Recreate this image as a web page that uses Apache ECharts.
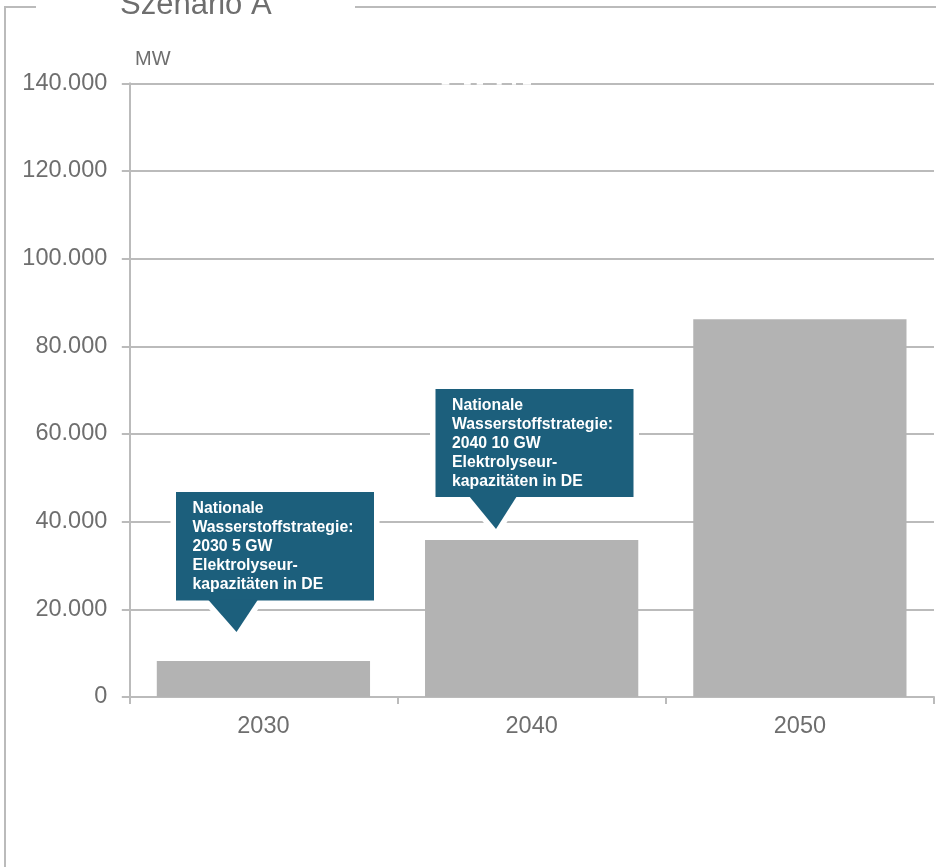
<!DOCTYPE html>
<html>
<head>
<meta charset="utf-8">
<script src="https://cdn.jsdelivr.net/npm/echarts@6/dist/echarts.min.js"></script>
<style>
html,body{margin:0;padding:0;background:#fff;}
#chart{width:936px;height:867px;}
</style>
</head>
<body>
<div id="chart"></div>
<script>
var categories = ['2030', '2040', '2050'];
var capacityMW = [8200, 35800, 86200];
var yTicks = [0, 20000, 40000, 60000, 80000, 100000, 120000, 140000];
var titleText = 'Szenario A';
var unitText = 'MW';
var callout2030 = ['Nationale', 'Wasserstoffstrategie:', '2030 5 GW', 'Elektrolyseur-', 'kapazitäten in DE'];
var callout2040 = ['Nationale', 'Wasserstoffstrategie:', '2040 10 GW', 'Elektrolyseur-', 'kapazitäten in DE'];

var FONT = '"Liberation Sans", Arial, sans-serif';
var GREY_TXT = '#6e6e6e';
var LINE = '#bbbbbb';
var TEAL = '#1c5f7c';

function fmt(v) { return String(v).replace(/\B(?=(\d{3})+(?!\d))/g, '.'); }

function callout(x, y, w, h, tri, lines) {
  var pts = [[tri[0], y + h - 1], [tri[1], y + h - 1], [tri[2], tri[3]]];
  return [
    { type: 'rect', shape: { x: x, y: y, width: w, height: h }, style: { fill: '#fff', stroke: '#fff', lineWidth: 11 }, z: 50 },
    { type: 'polygon', shape: { points: pts }, style: { fill: '#fff', stroke: '#fff', lineWidth: 11, lineJoin: 'round' }, z: 50 },
    { type: 'rect', shape: { x: x, y: y, width: w, height: h }, style: { fill: TEAL }, z: 51 },
    { type: 'polygon', shape: { points: pts }, style: { fill: TEAL }, z: 51 },
    { type: 'text', x: x + 16.5, y: y + 7, z: 52,
      style: { text: lines.join('\n'), fill: '#ffffff', font: 'bold 15.8px ' + FONT, lineHeight: 19, textVerticalAlign: 'top', textAlign: 'left' } }
  ];
}

var chart = echarts.init(document.getElementById('chart'), null, { renderer: 'canvas' });

var graphics = [
  { type: 'polyline', shape: { points: [[36, 7], [5, 7], [5, 867]] }, style: { stroke: LINE, lineWidth: 2, fill: null }, z: 5 },
  { type: 'line', shape: { x1: 355, y1: 7, x2: 936, y2: 7 }, style: { stroke: LINE, lineWidth: 2 }, z: 5 },
  { type: 'text', x: 120, y: 5, z: 5, style: { text: titleText, fill: GREY_TXT, font: '31px ' + FONT, textVerticalAlign: 'middle', textAlign: 'left' } },
  { type: 'text', x: 135, y: 59, z: 5, style: { text: unitText, fill: GREY_TXT, font: '20px ' + FONT, textVerticalAlign: 'middle', textAlign: 'left' } },
  { type: 'line', shape: { x1: 441.7, y1: 83.3, x2: 531, y2: 83.3 }, z: 40,
    style: { stroke: '#fff', lineWidth: 3, lineDash: [7.6, 14.7, 6.7, 6, 6.3, 13.7, 5, 10.3, 4, 7, 8] } }
].concat(
  callout(176, 492, 198, 108.5, [208, 258, 236.5, 632], callout2030),
  callout(435.5, 389, 198, 108, [469, 517, 496, 529], callout2040)
);

chart.setOption({
  animation: false,
  backgroundColor: '#ffffff',
  grid: { left: 129.3, right: 2, top: 83.3, bottom: 170, containLabel: false },
  xAxis: {
    type: 'category',
    data: categories,
    boundaryGap: true,
    axisLine: { show: true, lineStyle: { color: LINE, width: 2 } },
    axisTick: { show: true, length: 7, alignWithLabel: false, lineStyle: { color: LINE, width: 2 } },
    axisLabel: { color: GREY_TXT, fontSize: 23.5, fontFamily: FONT, margin: 18 },
    splitLine: { show: false }
  },
  yAxis: {
    type: 'value',
    min: 0, max: 140000, interval: 20000,
    axisLine: { show: true, lineStyle: { color: LINE, width: 2 } },
    axisTick: { show: true, length: 7.5, lineStyle: { color: LINE, width: 2 } },
    axisLabel: { color: GREY_TXT, fontSize: 23.5, fontFamily: FONT, margin: 22, padding: [4, 0, 0, 0], formatter: function (v) { return fmt(v); } },
    splitLine: { show: true, lineStyle: { color: LINE, width: 2 } }
  },
  series: [{
    type: 'bar',
    data: capacityMW,
    barCategoryGap: '20.5%',
    itemStyle: { color: '#b3b3b3' },
    z: 2
  }],
  graphic: graphics
});
</script>
</body>
</html>
